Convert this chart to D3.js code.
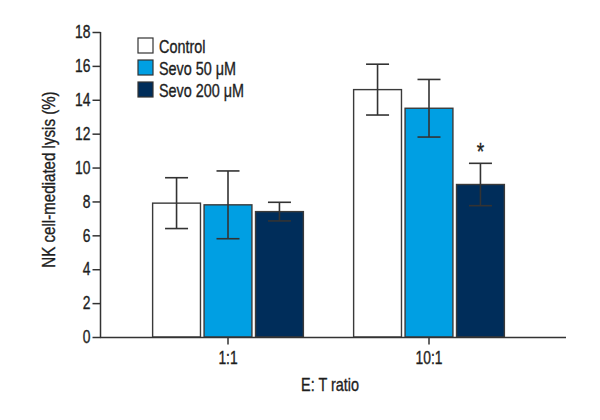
<!DOCTYPE html>
<html><head><meta charset="utf-8">
<script src="https://cdn.jsdelivr.net/npm/d3@7"></script>
<style>
body{margin:0;background:#fff}
text{font-family:'Liberation Sans', Arial, sans-serif; fill:#1e1e1e; stroke:#1e1e1e; stroke-width:0.35px; transform-box:fill-box; transform:scaleX(0.8);}
.tick text{transform:scaleX(0.77);}
.ylab{transform:scaleX(0.84);}
.mid{transform-origin:center center}
.end{transform-origin:right center}
.start{transform-origin:left center}
</style>
</head><body><svg id="c" width="600" height="420"></svg>
<script>
const categories = ["1:1", "10:1"];
const seriesNames = ["Control", "Sevo 50 μM", "Sevo 200 μM"];
const control = [7.9, 14.6];
const sevo50 = [7.8, 13.5];
const sevo200 = [7.4, 9.0];
const controlErr = [1.5, 1.5];
const sevo50Err = [2.0, 1.7];
const sevo200Err = [0.55, 1.25];
const yTicks = [0, 2, 4, 6, 8, 10, 12, 14, 16, 18];
const significant = [[2, 1]]; // series index, category index

const colors = ["#ffffff", "#009fe3", "#002d5a"];
const values = [control, sevo50, sevo200];
const errs = [controlErr, sevo50Err, sevo200Err];

const svg = d3.select("#c");
const y = d3.scaleLinear().domain([0, 18]).range([337, 32]);
const x0 = d3.scaleBand().domain(categories).range([127.5, 529.5]).paddingInner(0.25).paddingOuter(0.125);
const x1 = d3.scaleBand().domain(d3.range(3)).range([0, x0.bandwidth()]).paddingInner(0.07);

// bars
values.forEach((vals, s) => {
  svg.append("g").selectAll("rect").data(categories).join("rect")
    .attr("x", (c) => x0(c) + x1(s))
    .attr("y", (c, i) => y(vals[i]))
    .attr("width", x1.bandwidth())
    .attr("height", (c, i) => y(0) - y(vals[i]))
    .attr("fill", colors[s])
    .attr("stroke", "#3a3a3a").attr("stroke-width", 1.4);
});

// error bars
values.forEach((vals, s) => {
  const g = svg.append("g").attr("stroke", "#333").attr("stroke-width", 1.6).attr("fill", "none");
  categories.forEach((c, i) => {
    const cx = x0(c) + x1(s) + x1.bandwidth() / 2;
    const top = y(vals[i] + errs[s][i]), bot = y(vals[i] - errs[s][i]);
    g.append("line").attr("x1", cx).attr("x2", cx).attr("y1", top).attr("y2", bot);
    g.append("line").attr("x1", cx - 11.5).attr("x2", cx + 11.5).attr("y1", top).attr("y2", top);
    g.append("line").attr("x1", cx - 11.5).attr("x2", cx + 11.5).attr("y1", bot).attr("y2", bot);
  });
});

// significance
significant.forEach(([s, i]) => {
  const c = categories[i];
  svg.append("text").attr("class", "mid")
    .attr("x", x0(c) + x1(s) + x1.bandwidth() / 2)
    .attr("y", y(values[s][i] + errs[s][i]) - 3)
    .attr("text-anchor", "middle")
    .attr("font-size", 24)
    .text("*");
});

// y axis
const yAxis = svg.append("g").attr("transform", "translate(100.5,0)")
  .call(d3.axisLeft(y).tickValues(yTicks).tickSize(8).tickPadding(2));
yAxis.select(".domain").attr("stroke", "#333").attr("stroke-width", 1.5).attr("d", `M0,${y(18)}V${y(0)}`);
yAxis.selectAll(".tick line").attr("stroke", "#333").attr("stroke-width", 1.5);
yAxis.selectAll(".tick text").attr("class", "end").attr("font-size", 18).attr("fill", null);

// x axis
svg.append("line").attr("x1", 100).attr("x2", 566).attr("y1", 337.5).attr("y2", 337.5)
  .attr("stroke", "#333").attr("stroke-width", 1.6);
const xAxis = svg.append("g").attr("transform", "translate(0,337.5)")
  .call(d3.axisBottom(x0).tickSize(7).tickPadding(7));
xAxis.select(".domain").remove();
xAxis.selectAll(".tick line").attr("stroke", "#333").attr("stroke-width", 1.5);
xAxis.selectAll(".tick text").attr("class", "mid").attr("font-size", 18).attr("fill", null);
svg.selectAll("g").filter(function(){return this.hasAttribute("font-family");}).attr("font-family", null);

// axis titles
svg.append("g").attr("transform", "translate(55,179.5) rotate(-90)")
  .append("text").attr("class", "mid ylab")
  .attr("text-anchor", "middle").attr("font-size", 18)
  .text("NK cell-mediated lysis (%)");
svg.append("text").attr("class", "mid").attr("x", 330).attr("y", 391)
  .attr("text-anchor", "middle").attr("font-size", 18)
  .text("E: T ratio");

// legend
const leg = svg.append("g").attr("transform", "translate(138,38)");
seriesNames.forEach((n, i) => {
  leg.append("rect").attr("x", 0).attr("y", i * 22).attr("width", 15).attr("height", 15)
    .attr("fill", colors[i]).attr("stroke", "#333").attr("stroke-width", 1.2);
  leg.append("text").attr("class", "start").attr("x", 21).attr("y", i * 22 + 15)
    .attr("font-size", 18).text(n);
});
</script>
</body></html>
